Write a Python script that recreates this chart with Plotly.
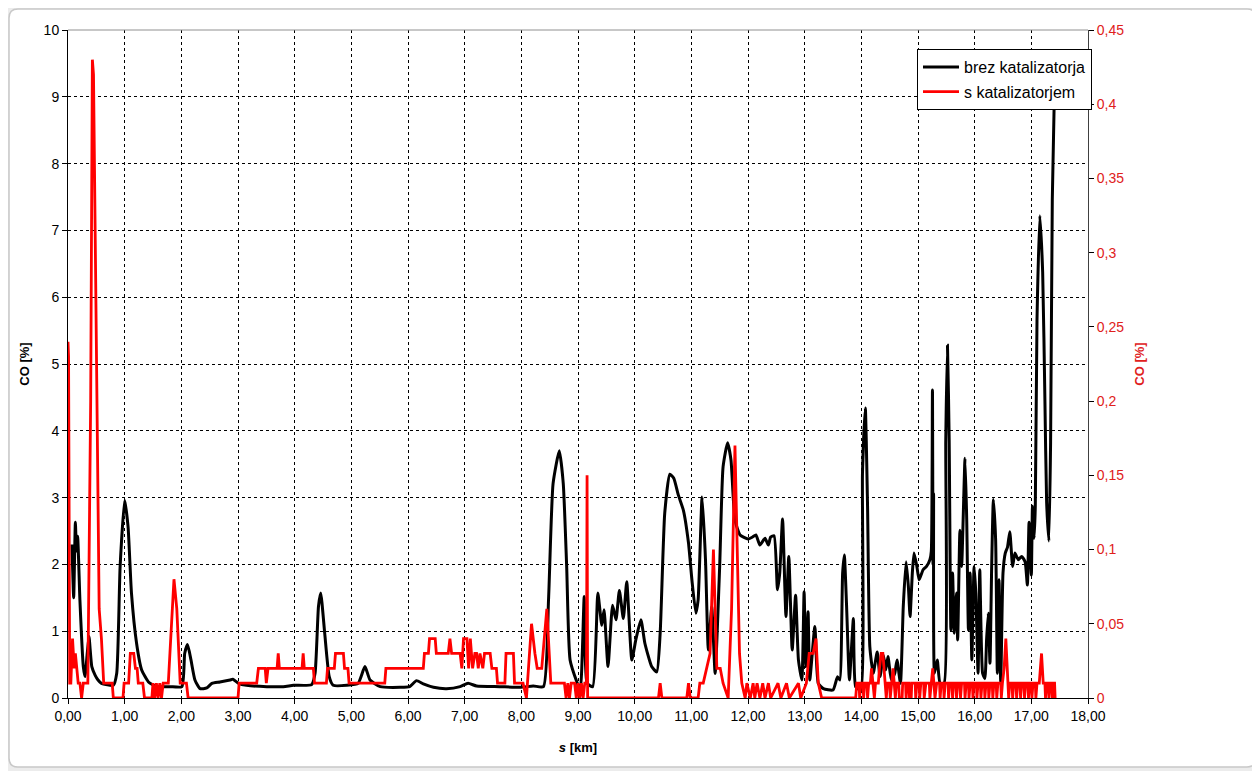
import plotly.graph_objects as go

# ---- data: "brez katalizatorja" (left axis, CO %) ----
black_s = [0.07, 0.10, 0.13, 0.15, 0.17, 0.21, 0.27, 0.30, 0.34, 0.37, 0.42, 0.48, 0.53, 0.59, 0.80, 0.86,
           0.92, 1.00, 1.06, 1.12, 1.21, 1.30, 1.42, 1.56, 1.80, 2.01, 2.06, 2.11, 2.17, 2.24, 2.33, 2.45,
           2.54, 2.68, 2.86, 2.91, 3.01, 3.15, 3.51, 3.80, 3.98, 4.30, 4.36, 4.42, 4.46, 4.53, 4.61, 4.68,
           4.92, 5.12, 5.24, 5.33, 5.51, 5.86, 6.03, 6.15, 6.27, 6.45, 6.68, 6.92, 7.06, 7.21, 7.62, 7.98,
           8.21, 8.39, 8.48, 8.56, 8.67, 8.74, 8.80, 8.86, 8.98, 9.04, 9.11, 9.16, 9.26, 9.35, 9.42, 9.46,
           9.53, 9.61, 9.67, 9.73, 9.80, 9.86, 9.95, 10.02, 10.11, 10.18, 10.30, 10.39, 10.45, 10.53, 10.62,
           10.69, 10.77, 10.86, 10.95, 11.01, 11.08, 11.12, 11.19, 11.25, 11.30, 11.36, 11.42, 11.50, 11.56,
           11.64, 11.70, 11.77, 11.86, 12.00, 12.08, 12.14, 12.21, 12.30, 12.36, 12.40, 12.46, 12.52, 12.56,
           12.61, 12.67, 12.72, 12.78, 12.84, 12.89, 12.95, 12.99, 13.02, 13.06, 13.09, 13.18, 13.24, 13.33,
           13.50, 13.58, 13.62, 13.67, 13.70, 13.74, 13.79, 13.86, 13.90, 13.99, 14.02, 14.07, 14.11, 14.15,
           14.21, 14.28, 14.33, 14.39, 14.43, 14.47, 14.53, 14.59, 14.63, 14.69, 14.74, 14.79, 14.83, 14.86,
           14.90, 14.93, 14.98, 15.02, 15.09, 15.15, 15.21, 15.235, 15.255, 15.265, 15.275, 15.29, 15.34,
           15.39, 15.46, 15.49, 15.52, 15.55, 15.58, 15.61, 15.64, 15.68, 15.70, 15.74, 15.77, 15.83, 15.86,
           15.89, 15.92, 15.95, 15.99, 16.02, 16.06, 16.09, 16.14, 16.18, 16.21, 16.24, 16.27, 16.30, 16.33,
           16.37, 16.40, 16.43, 16.46, 16.50, 16.54, 16.58, 16.62, 16.67, 16.71, 16.77, 16.83, 16.89, 16.93,
           16.96, 17.00, 17.02, 17.05, 17.07, 17.10, 17.15, 17.20, 17.24, 17.27, 17.31, 17.34, 17.37, 17.41]
black_co = [2.30, 1.50, 2.63, 2.20, 2.42, 1.47, 0.47, 0.32, 0.67, 0.92, 0.47, 0.34, 0.27, 0.22, 0.19, 0.37,
            1.97, 2.96, 2.56, 1.57, 0.82, 0.42, 0.24, 0.17, 0.17, 0.17, 0.67, 0.80, 0.57, 0.27, 0.14, 0.15,
            0.22, 0.24, 0.27, 0.28, 0.22, 0.19, 0.17, 0.17, 0.19, 0.20, 0.37, 1.37, 1.57, 0.97, 0.32, 0.19,
            0.19, 0.22, 0.47, 0.27, 0.17, 0.16, 0.17, 0.26, 0.21, 0.16, 0.14, 0.17, 0.22, 0.18, 0.17, 0.16,
            0.18, 0.17, 1.47, 3.21, 3.70, 3.21, 1.97, 0.57, 0.24, 0.12, 1.52, 0.22, 0.17, 1.57, 1.09, 1.32,
            0.47, 1.39, 1.17, 1.61, 1.19, 1.74, 0.57, 0.87, 1.17, 0.82, 0.47, 0.39, 0.97, 2.76, 3.35,
            3.29, 3.04, 2.81, 2.32, 1.77, 1.27, 1.47, 3.01, 2.07, 0.72, 1.37, 0.37, 1.97, 3.46,
            3.82, 3.56, 2.66, 2.44, 2.38, 2.41, 2.44, 2.29, 2.39, 2.29, 2.41, 2.43, 1.62, 1.87,
            2.68, 1.22, 2.12, 0.72, 1.54, 0.57, 0.27, 1.59, 0.47, 1.29, 0.27, 1.07, 0.22, 0.14,
            0.12, 0.32, 0.27, 1.87, 2.14, 1.37, 0.27, 1.19, 0.17, 0.12, 3.36, 4.34, 2.86, 0.77,
            0.37, 0.69, 0.32, 0.64, 0.42, 0.62, 0.27, 0.37, 0.57, 0.22, 1.37, 2.04, 1.67, 1.22,
            1.87, 2.17, 1.97, 1.77, 1.92, 1.97, 2.07, 2.20, 4.61, 2.00, 3.06, 0.37, 0.57,
            0.22, 0.22, 3.86, 5.28, 3.86, 1.02, 1.87, 0.97, 1.57, 0.87, 2.51, 1.97, 3.59, 2.66,
            1.02, 1.87, 0.57, 1.97, 1.57, 0.37, 1.92, 0.37, 0.29, 0.87, 1.27, 0.52, 1.97, 2.97,
            2.37, 0.37, 1.77, 0.22, 1.87, 2.17, 2.26, 2.49, 1.97, 2.17, 2.07, 2.12, 2.04, 1.69,
            2.63, 1.84, 2.87, 2.39, 2.87, 5.65, 7.22, 6.37, 4.44, 2.93, 2.35, 3.83, 7.46, 9.20]

# ---- data: "s katalizatorjem" (right axis, CO %) ----
red_s = [0.00, 0.01, 0.03, 0.05, 0.08, 0.11, 0.13, 0.15, 0.18, 0.21, 0.24, 0.27, 0.35, 0.40, 0.43, 0.45,
         0.48, 0.55, 0.59, 0.63, 0.78, 0.80, 0.97, 0.99, 1.07, 1.10, 1.16, 1.19, 1.22, 1.24, 1.32, 1.35,
         1.48, 1.50, 1.53, 1.56, 1.59, 1.62, 1.65, 1.68, 1.77, 1.87, 1.92, 1.98, 2.09, 2.12, 3.00, 3.02,
         3.33, 3.36, 3.48, 3.50, 3.53, 3.69, 3.71, 3.73, 4.13, 4.15, 4.17, 4.33, 4.35, 4.56, 4.58, 4.70,
         4.72, 4.86, 4.88, 4.94, 4.96, 5.59, 5.61, 6.27, 6.29, 6.36, 6.38, 6.48, 6.50, 6.71, 6.74, 6.77,
         6.92, 6.95, 6.98, 7.04, 7.07, 7.10, 7.14, 7.18, 7.21, 7.24, 7.27, 7.32, 7.35, 7.45, 7.48, 7.56,
         7.58, 7.71, 7.73, 7.86, 7.88, 8.03, 8.09, 8.18, 8.24, 8.28, 8.36, 8.45, 8.52, 8.76, 8.79, 8.82,
         8.85, 8.88, 8.94, 8.97, 9.00, 9.03, 9.06, 9.09, 9.12, 9.15, 9.16, 9.17, 10.42, 10.45, 10.48,
         10.92, 10.95, 10.98, 11.12, 11.15, 11.21, 11.27, 11.33, 11.39, 11.45, 11.51, 11.56, 11.65, 11.71,
         11.77, 11.81, 11.85, 11.89, 11.95, 11.98, 12.04, 12.09, 12.12, 12.16, 12.21, 12.26, 12.30, 12.36,
         12.40, 12.53, 12.58, 12.68, 12.73, 12.89, 12.93, 13.03, 13.08, 13.15, 13.20, 13.24, 13.30, 13.90,
         13.92, 13.96, 13.97, 13.99, 14.03, 14.04, 14.06, 14.10, 14.11, 14.13, 14.16, 14.18, 14.20, 14.23,
         14.25, 14.30, 14.32, 14.35, 14.38, 14.40, 14.42, 14.44, 14.46, 14.50, 14.51, 14.53, 14.56, 14.58,
         14.60, 14.62, 14.66, 14.67, 14.72, 14.73, 14.78, 14.79, 14.81, 14.84, 14.85, 14.88, 14.89, 14.95,
         14.96, 14.98, 15.02, 15.03, 15.05, 15.10, 15.11, 15.14, 15.20, 15.21, 15.23, 15.26, 15.28, 15.30,
         15.33, 15.38, 15.39, 15.41, 15.45, 15.46, 15.48, 15.53, 15.54, 15.56, 15.60, 15.61, 15.63, 15.67,
         15.68, 15.70, 15.74, 15.75, 15.77, 15.82, 15.83, 15.85, 15.89, 15.90, 15.92, 15.96, 15.97, 15.99,
         16.03, 16.04, 16.06, 16.10, 16.11, 16.13, 16.17, 16.18, 16.20, 16.24, 16.25, 16.27, 16.31, 16.32,
         16.34, 16.38, 16.39, 16.41, 16.46, 16.47, 16.49, 16.52, 16.55, 16.58, 16.60, 16.62, 16.66, 16.67,
         16.69, 16.73, 16.74, 16.76, 16.80, 16.81, 16.83, 16.87, 16.88, 16.90, 16.94, 16.95, 16.97, 17.00,
         17.01, 17.03, 17.07, 17.08, 17.10, 17.14, 17.16, 17.18, 17.21, 17.24, 17.25, 17.27, 17.30, 17.31,
         17.33, 17.36, 17.37, 17.39, 17.41, 17.42]
red_co = [0.24, 0.23, 0.01, 0.01, 0.04, 0.02, 0.03, 0.02, 0.01, 0.01, 0.00, 0.01, 0.01, 0.20, 0.43, 0.42,
          0.30, 0.06, 0.04, 0.01, 0.01, 0.00, 0.00, 0.01, 0.01, 0.03, 0.03, 0.02, 0.02, 0.01, 0.01, 0.00,
          0.00, 0.01, 0.00, 0.01, 0.00, 0.01, 0.00, 0.01, 0.01, 0.08, 0.06, 0.01, 0.01, 0.00, 0.00, 0.01,
          0.01, 0.02, 0.02, 0.01, 0.02, 0.02, 0.03, 0.02, 0.02, 0.03, 0.02, 0.02, 0.01, 0.01, 0.02, 0.02,
          0.03, 0.03, 0.02, 0.02, 0.01, 0.01, 0.02, 0.02, 0.03, 0.03, 0.04, 0.04, 0.03, 0.03, 0.04, 0.03,
          0.03, 0.02, 0.04, 0.04, 0.02, 0.04, 0.02, 0.03, 0.03, 0.02, 0.03, 0.02, 0.03, 0.03, 0.02, 0.02,
          0.01, 0.01, 0.03, 0.03, 0.01, 0.01, 0.00, 0.05, 0.03, 0.02, 0.02, 0.06, 0.01, 0.01, 0.00, 0.01,
          0.00, 0.01, 0.01, 0.00, 0.01, 0.00, 0.01, 0.00, 0.01, 0.01, 0.15, 0.00, 0.00, 0.01, 0.00,
          0.00, 0.01, 0.00, 0.00, 0.01, 0.01, 0.02, 0.03, 0.10, 0.02, 0.02, 0.01, 0.00, 0.06,
          0.17, 0.11, 0.03, 0.01, 0.00, 0.01, 0.00, 0.01, 0.00, 0.01, 0.00, 0.01, 0.00, 0.01,
          0.00, 0.01, 0.00, 0.01, 0.00, 0.01, 0.00, 0.01, 0.03, 0.03, 0.04, 0.01, 0.00, 0.00,
          0.01, 0.01, 0.00, 0.01, 0.01, 0.00, 0.01, 0.01, 0.00, 0.01, 0.01, 0.02, 0.01, 0.00,
          0.01, 0.01, 0.02, 0.03, 0.03, 0.02, 0.01, 0.00, 0.01, 0.01, 0.00, 0.01, 0.02, 0.01,
          0.00, 0.01, 0.01, 0.00, 0.00, 0.01, 0.01, 0.00, 0.01, 0.01, 0.00, 0.00, 0.01, 0.01,
          0.00, 0.01, 0.01, 0.00, 0.01, 0.01, 0.00, 0.01, 0.01, 0.00, 0.01, 0.02, 0.01, 0.00,
          0.01, 0.01, 0.00, 0.01, 0.01, 0.00, 0.01, 0.01, 0.00, 0.01, 0.01, 0.00, 0.01, 0.01,
          0.00, 0.01, 0.01, 0.00, 0.01, 0.01, 0.00, 0.01, 0.01, 0.00, 0.01, 0.01, 0.00, 0.01,
          0.01, 0.00, 0.01, 0.01, 0.00, 0.01, 0.01, 0.00, 0.01, 0.01, 0.00, 0.01, 0.01, 0.00,
          0.01, 0.01, 0.00, 0.01, 0.01, 0.00, 0.01, 0.02, 0.04, 0.01, 0.00, 0.01, 0.01, 0.00,
          0.01, 0.01, 0.00, 0.01, 0.01, 0.00, 0.01, 0.01, 0.00, 0.01, 0.01, 0.00, 0.01, 0.01,
          0.00, 0.01, 0.01, 0.00, 0.01, 0.01, 0.02, 0.03, 0.01, 0.01, 0.00, 0.01, 0.01, 0.00,
          0.01, 0.01, 0.00, 0.01, 0.01, 0.00]

x_ticks = [0, 1, 2, 3, 4, 5, 6, 7, 8, 9, 10, 11, 12, 13, 14, 15, 16, 17, 18]
x_tick_labels = [f"{v},00" for v in x_ticks]

FONT = "Liberation Sans, Arial, sans-serif"
RED = "#ff0000"

fig = go.Figure()
fig.add_trace(go.Scatter(x=black_s, y=black_co, mode="lines", name="brez katalizatorja",
                         line=dict(color="black", width=3, shape="spline", smoothing=0.5),
                         legendgroup="a"))
fig.add_trace(go.Scatter(x=red_s, y=red_co, mode="lines", name="s katalizatorjem",
                         line=dict(color=RED, width=2.8), yaxis="y2", legendgroup="b"))

# page offset of the figure (default body margin of the html page)
OFF = 8
# target plot-area geometry in page pixels
L, R, T, B = 68, 1088, 30, 698
PAGE_W, PAGE_H = 1260, 771
W, H = PAGE_W - OFF, PAGE_H - OFF
pw, ph = R - L, B - T


def px(x):
    return (x - L) / pw


def py(y):
    return (B - y) / ph


# rounded outer chart frame (page pixels)
x0, x1, y0, y1, rad = 9, 1256, 9, 767, 9
rx, ry = rad / pw, rad / ph
X0, X1, Y0, Y1 = px(x0), px(x1), py(y0), py(y1)
frame = (f"M {X0+rx},{Y0} L {X1-rx},{Y0} Q {X1},{Y0} {X1},{Y0-ry} L {X1},{Y1+ry} "
         f"Q {X1},{Y1} {X1-rx},{Y1} L {X0+rx},{Y1} Q {X0},{Y1} {X0},{Y1+ry} "
         f"L {X0},{Y0-ry} Q {X0},{Y0} {X0+rx},{Y0} Z")

fig.update_layout(
    width=W, height=H,
    margin=dict(l=L - OFF, r=PAGE_W - R, t=T - OFF, b=PAGE_H - B, autoexpand=False),
    paper_bgcolor="#ececec", plot_bgcolor="rgba(0,0,0,0)",
    separators=", ",
    font=dict(family=FONT, size=14, color="black"),
    shapes=[
        dict(type="path", xref="paper", yref="paper", path=frame, layer="below",
             fillcolor="white", line=dict(color="#c8c8c8", width=1.5)),
        dict(type="line", xref="paper", yref="paper", x0=0, x1=1, y0=1, y1=1,
             line=dict(color="#909090", width=1)),
    ],
    xaxis=dict(range=[0, 18], tickvals=x_ticks, ticktext=x_tick_labels,
               showgrid=True, gridcolor="black", griddash="dot", gridwidth=1,
               showline=True, linecolor="black", linewidth=1,
               ticks="outside", ticklen=5, tickcolor="black", zeroline=False,
               tickfont=dict(size=14, color="black"),
               title=dict(text="<b><i>s</i> [km]</b>", font=dict(size=13), standoff=20)),
    yaxis=dict(range=[0, 10], dtick=1, showgrid=True, gridcolor="black", griddash="dot", gridwidth=1,
               showline=True, linecolor="black", linewidth=1, zeroline=False,
               ticks="outside", ticklen=5, tickcolor="black",
               tickfont=dict(size=14, color="black"),
               title=dict(text="<b>CO [%]</b>", font=dict(size=13), standoff=11)),
    yaxis2=dict(range=[0, 0.45], dtick=0.05, overlaying="y", side="right", showgrid=False,
                showline=True, linecolor="#404040", linewidth=1, zeroline=False,
                ticks="outside", ticklen=5, tickcolor="black",
                tickfont=dict(size=14, color="#e0201b"),
                title=dict(text="<b>CO [%]</b>", font=dict(size=13, color="#e0201b"), standoff=11)),
    legend=dict(x=px(917), y=py(49), xanchor="left", yanchor="top",
                bgcolor="white", bordercolor="black", borderwidth=1,
                font=dict(size=16, color="black"), itemwidth=36,
                traceorder="grouped", tracegroupgap=1),
    showlegend=True,
)

fig.write_html("out.html")
